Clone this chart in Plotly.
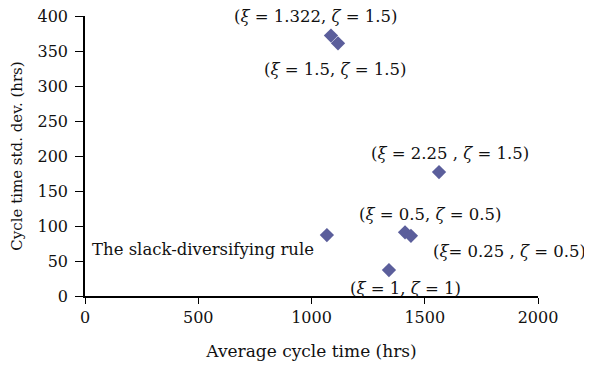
import plotly.graph_objects as go

# Data
avg_cycle_time = [1086, 1117, 1563, 1068, 1413, 1439, 1342]
cycle_std_dev = [372, 361, 177, 87, 91, 86, 37]

label_texts = [
    "(<i>ξ</i> = 1.322, <i>ζ</i> = 1.5)",
    "(<i>ξ</i> = 1.5, <i>ζ</i> = 1.5)",
    "(<i>ξ</i> = 2.25 , <i>ζ</i> = 1.5)",
    "(<i>ξ</i> = 0.5, <i>ζ</i> = 0.5)",
    "(<i>ξ</i>= 0.25 , <i>ζ</i> = 0.5)",
    "The slack-diversifying rule",
    "(<i>ξ</i> = 1, <i>ζ</i> = 1)",
]
label_x = [1022, 1106, 1611, 1527, 1872, 523, 1416]
label_y = [400, 323, 204, 116, 64, 66, 11]

x_ticks = [0, 500, 1000, 1500, 2000]
y_ticks = [0, 50, 100, 150, 200, 250, 300, 350, 400]

FONT = "DejaVu Serif"
COLOR = "#5b5e9b"

fig = go.Figure()
fig.add_trace(go.Scatter(
    x=avg_cycle_time, y=cycle_std_dev, mode="markers",
    marker=dict(symbol="diamond", size=11, color=COLOR),
    cliponaxis=False, showlegend=False,
))

for t, x, y in zip(label_texts, label_x, label_y):
    fig.add_annotation(x=x, y=y, text=t, showarrow=False,
                       font=dict(family=FONT, size=16.5, color="#111"),
                       xanchor="center", yanchor="middle")

fig.update_layout(
    width=584, height=357,
    margin=dict(l=77, r=54, t=8, b=69),
    paper_bgcolor="white", plot_bgcolor="white",
    font=dict(family=FONT, size=16, color="#111"),
)
fig.update_xaxes(
    range=[0, 2000], tickvals=x_ticks, showgrid=False, zeroline=False,
    showline=True, linecolor="black", linewidth=1.5, automargin=False,
    ticks="outside", ticklen=6, tickcolor="black", ticklabeloverflow="allow",
    tickfont=dict(family=FONT, size=16, color="#111"),
    title=dict(text="Average cycle time (hrs)", standoff=19,
               font=dict(family=FONT, size=17, color="#111")),
)
fig.update_yaxes(
    range=[0, 400], tickvals=y_ticks, showgrid=False, zeroline=False,
    showline=True, linecolor="black", linewidth=1.5, automargin=False,
    ticks="outside", ticklen=8, tickcolor="black", ticklabelstandoff=4,
    ticklabeloverflow="allow",
    tickfont=dict(family=FONT, size=16, color="#111"),
    title=dict(text="Cycle time std. dev. (hrs)", standoff=19,
               font=dict(family=FONT, size=15, color="#111")),
)

fig.write_html("out.html")
